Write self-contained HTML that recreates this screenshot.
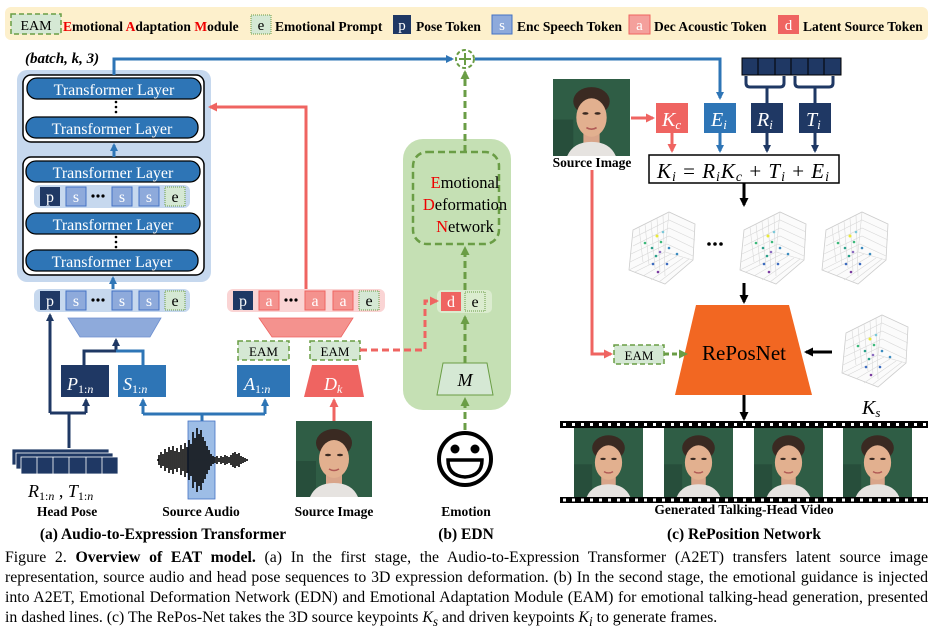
<!DOCTYPE html>
<html><head><meta charset="utf-8"><style>
html,body{margin:0;padding:0;background:#fff;}
svg{display:block;font-family:"Liberation Serif",serif;}
.cap{position:absolute;left:5px;top:548px;width:923px;font-family:"Liberation Serif",serif;font-size:15.8px;line-height:20px;text-align:justify;color:#000;}
</style></head><body>
<div style="position:relative;width:933px;height:633px;overflow:hidden">
<svg width="933" height="633" viewBox="0 0 933 633">
<defs>
<marker id="ab" markerWidth="8" markerHeight="8" refX="6" refY="4" orient="auto" markerUnits="userSpaceOnUse"><path d="M0,0 L8,4 L0,8 z" fill="#2e75b6"/></marker>
<marker id="an" markerWidth="8" markerHeight="8" refX="6" refY="4" orient="auto" markerUnits="userSpaceOnUse"><path d="M0,0 L8,4 L0,8 z" fill="#1f3864"/></marker>
<marker id="ar" markerWidth="9" markerHeight="9" refX="7" refY="4.5" orient="auto" markerUnits="userSpaceOnUse"><path d="M0,0 L9,4.5 L0,9 z" fill="#ef6461"/></marker>
<marker id="ag" markerWidth="9" markerHeight="9" refX="7" refY="4.5" orient="auto" markerUnits="userSpaceOnUse"><path d="M0,0 L9,4.5 L0,9 z" fill="#6a9d45"/></marker>
<marker id="ak" markerWidth="9" markerHeight="9" refX="7" refY="4.5" orient="auto" markerUnits="userSpaceOnUse"><path d="M0,0 L9,4.5 L0,9 z" fill="#000"/></marker>
<symbol id="plot" viewBox="0 0 72 76">
<path d="M8,20 L44,2 L70,14 L68,50 L40,74 L4,60 Z" fill="#fbfbfb" stroke="#ccc" stroke-width="0.8"/>
<path d="M14,17 L18,52 M20,14 L24,55 M26,11 L30,58 M32,8 L35,62 M38,5 L40,66 M8,28 L44,10 L70,22 M8,36 L44,18 L70,30 M6,44 L44,26 L69,38 M5,52 L42,34 L68,46 M4,60 L40,42 L68,50 M44,2 L40,42 M10,62 L46,44 M18,66 L52,46 M26,70 L58,48 M34,72 L64,49" stroke="#d8d8d8" stroke-width="0.6" fill="none"/>
<g><circle cx="32" cy="26" r="1.5" fill="#e8e83a"/><circle cx="38" cy="22" r="1.3" fill="#7cc8d8"/><circle cx="20" cy="33" r="1.3" fill="#3bb87a"/><circle cx="36" cy="32" r="1.3" fill="#3bb87a"/><circle cx="27" cy="38" r="1.3" fill="#2aa08a"/><circle cx="44" cy="38" r="1.3" fill="#3b8bbf"/><circle cx="31" cy="46" r="1.3" fill="#2aa08a"/><circle cx="52" cy="44" r="1.3" fill="#3b8bbf"/><circle cx="28" cy="54" r="1.3" fill="#3b6bbf"/><circle cx="42" cy="54" r="1.3" fill="#3b6bbf"/><circle cx="33" cy="62" r="1.3" fill="#7a3b9f"/><circle cx="35" cy="42" r="1.3" fill="#8a6bbf"/></g>
</symbol>
<symbol id="face" viewBox="0 0 76 76">
<rect width="76" height="76" fill="#2f5d45"/><rect x="0" y="40" width="20" height="36" fill="#274e3b"/>
<ellipse cx="38" cy="22" rx="18" ry="14" fill="#3a2a22"/>
<rect x="30" y="50" width="16" height="14" fill="#d9a58a"/>
<path d="M14,76 Q20,62 38,62 Q56,62 62,76 Z" fill="#e6e3e0"/>
<ellipse cx="38" cy="38" rx="15" ry="19" fill="#e2b08f"/>
<ellipse cx="32" cy="34" rx="3" ry="1.3" fill="#3a2a22"/><ellipse cx="44" cy="34" rx="3" ry="1.3" fill="#3a2a22"/>
<path d="M33,48 Q38,51 43,48" stroke="#b05a55" stroke-width="1.6" fill="none"/>
</symbol>
</defs>

<rect x="5" y="7" width="923" height="33" rx="6" fill="#fdf0cc"/>
<rect x="11" y="14" width="50" height="20" fill="#d5e8d4" stroke="#6a9d45" stroke-width="1.5" stroke-dasharray="5,3"/>
<text x="36" y="30" font-size="14" text-anchor="middle">EAM</text>
<text x="63" y="31" font-size="13.5" font-weight="bold"><tspan fill="#e00">E</tspan>motional <tspan fill="#e00">A</tspan>daptation <tspan fill="#e00">M</tspan>odule</text>
<rect x="251" y="15" width="20" height="19" fill="#d5e8d4" stroke="#6a9d45" stroke-dasharray="1,1"/>
<text x="261" y="30" font-size="15" text-anchor="middle">e</text>
<text x="275" y="31" font-size="13.5" font-weight="bold">Emotional Prompt</text>
<rect x="393" y="15" width="18" height="19" fill="#1f3864"/>
<text x="402" y="30" font-size="15" text-anchor="middle" fill="#fff">p</text>
<text x="416" y="31" font-size="13.5" font-weight="bold">Pose Token</text>
<rect x="492" y="15" width="20" height="19" fill="#8eaadb" stroke="#4472c4"/>
<text x="502" y="30" font-size="15" text-anchor="middle" fill="#fff">s</text>
<text x="517" y="31" font-size="13.5" font-weight="bold">Enc Speech Token</text>
<rect x="629" y="15" width="21" height="19" fill="#f4a09c" stroke="#ef6461"/>
<text x="639.5" y="30" font-size="15" text-anchor="middle" fill="#fff">a</text>
<text x="654" y="31" font-size="13.5" font-weight="bold">Dec Acoustic Token</text>
<rect x="778" y="15" width="21" height="19" fill="#ef6461"/>
<text x="788.5" y="30" font-size="15" text-anchor="middle" fill="#fff">d</text>
<text x="803" y="31" font-size="13.5" font-weight="bold">Latent Source Token</text>

<text x="25" y="63" font-size="15" font-weight="bold" font-style="italic">(batch, k, 3)</text>
<rect x="17" y="70" width="194" height="212" rx="10" fill="#c6d8ee"/>
<rect x="23" y="75" width="181" height="67" rx="8" fill="#fff" stroke="#000" stroke-width="1.5"/>
<rect x="23" y="157" width="181" height="118" rx="8" fill="#fff" stroke="#000" stroke-width="1.5"/>
<g fill="#2e75b6" stroke="#000" stroke-width="1.3">
<rect x="27" y="78" width="174" height="21" rx="10"/>
<rect x="26" y="117" width="172" height="21" rx="10"/>
<rect x="26" y="161" width="174" height="21" rx="10"/>
<rect x="26" y="213" width="174" height="21" rx="10"/>
<rect x="26" y="250" width="172" height="21" rx="10"/>
</g>
<g fill="#fff" font-size="16" text-anchor="middle">
<text x="114" y="95">Transformer Layer</text>
<text x="112" y="134">Transformer Layer</text>
<text x="113" y="178">Transformer Layer</text>
<text x="113" y="230">Transformer Layer</text>
<text x="112" y="267">Transformer Layer</text>
</g>
<g fill="#000"><circle cx="116" cy="102" r="1.3"/><circle cx="116" cy="107" r="1.3"/><circle cx="116" cy="112" r="1.3"/>
<circle cx="116" cy="237" r="1.3"/><circle cx="116" cy="242" r="1.3"/><circle cx="116" cy="247" r="1.3"/></g>
<line x1="114" y1="157" x2="114" y2="145" stroke="#2e75b6" stroke-width="3" marker-end="url(#ab)"/>

<g id="trow1">
<rect x="34" y="185" width="156" height="23" rx="6" fill="#c6d8ee"/>
<rect x="40" y="187" width="20" height="19" fill="#1f3864"/>
<rect x="66" y="187" width="20" height="19" fill="#8eaadb" stroke="#4472c4"/>
<rect x="112" y="187" width="20" height="19" fill="#8eaadb" stroke="#4472c4"/>
<rect x="139" y="187" width="20" height="19" fill="#8eaadb" stroke="#4472c4"/>
<rect x="165" y="187" width="20" height="19" fill="#d5e8d4" stroke="#6a9d45" stroke-dasharray="1,1"/>
<g font-size="16" text-anchor="middle"><text x="50" y="202" fill="#fff">p</text><text x="76" y="202" fill="#fff">s</text><text x="122" y="202" fill="#fff">s</text><text x="149" y="202" fill="#fff">s</text><text x="175" y="202">e</text></g>
<g fill="#000"><circle cx="93" cy="196" r="1.6"/><circle cx="98" cy="196" r="1.6"/><circle cx="103" cy="196" r="1.6"/></g>
</g>
<use href="#trow1" transform="translate(0,104)"/>
<line x1="113" y1="289" x2="113" y2="278" stroke="#2e75b6" stroke-width="3" marker-end="url(#ab)"/>

<rect x="227" y="289" width="158" height="23" rx="6" fill="#fad4d4"/>
<rect x="233" y="291" width="20" height="19" fill="#1f3864"/>
<rect x="259" y="291" width="20" height="19" fill="#f4928e" stroke="#ef6461"/>
<rect x="305" y="291" width="20" height="19" fill="#f4928e" stroke="#ef6461"/>
<rect x="333" y="291" width="20" height="19" fill="#f4928e" stroke="#ef6461"/>
<rect x="359" y="291" width="20" height="19" fill="#d5e8d4" stroke="#6a9d45" stroke-dasharray="1,1"/>
<g font-size="16" text-anchor="middle"><text x="243" y="306" fill="#fff">p</text><text x="269" y="306" fill="#fff">a</text><text x="315" y="306" fill="#fff">a</text><text x="343" y="306" fill="#fff">a</text><text x="369" y="306">e</text></g>
<g fill="#000"><circle cx="286" cy="300" r="1.6"/><circle cx="291" cy="300" r="1.6"/><circle cx="296" cy="300" r="1.6"/></g>
<polyline points="306,289 306,107 210,107" fill="none" stroke="#ef6461" stroke-width="3" marker-end="url(#ar)"/>

<polyline points="114,75 114,59 452,59" fill="none" stroke="#2e75b6" stroke-width="3" marker-end="url(#ab)"/>
<polyline points="475,59 720,59 720,98" fill="none" stroke="#2e75b6" stroke-width="3" marker-end="url(#ab)"/>

<path d="M68,318 L161,318 L150,337 L80,337 Z" fill="#8eaadb" stroke="#6d8fcf" stroke-width="0.8"/>
<path d="M259,318 L353,318 L341,337 L272,337 Z" fill="#f4928e" stroke="#ef6461" stroke-width="0.8"/>
<rect x="238" y="341" width="51" height="19" fill="#d5e8d4" stroke="#6a9d45" stroke-width="1.5" stroke-dasharray="5,3"/>
<text x="263.5" y="356" font-size="13" text-anchor="middle">EAM</text>
<rect x="310" y="341" width="50" height="19" fill="#d5e8d4" stroke="#6a9d45" stroke-width="1.5" stroke-dasharray="5,3"/>
<text x="335" y="356" font-size="13" text-anchor="middle">EAM</text>

<rect x="61" y="365" width="48" height="32" fill="#1f3864"/>
<rect x="118" y="365" width="48" height="32" fill="#2e75b6"/>
<rect x="237" y="365" width="53" height="32" fill="#2e75b6"/>
<path d="M312,365 L358,365 L364,397 L304,397 Z" fill="#ef6461"/>
<g fill="#fff" font-style="italic" font-size="18">
<text x="67" y="390">P<tspan font-size="12" font-style="normal" dy="3">1:</tspan><tspan font-size="12" dy="0">n</tspan></text>
<text x="123" y="390">S<tspan font-size="12" font-style="normal" dy="3">1:</tspan><tspan font-size="12">n</tspan></text>
<text x="244" y="390">A<tspan font-size="12" font-style="normal" dy="3">1:</tspan><tspan font-size="12">n</tspan></text>
<text x="324" y="390">D<tspan font-size="12" dy="3">k</tspan></text>
</g>

<g fill="none" stroke="#1f3864" stroke-width="3">
<polyline points="69,448 69,413"/>
<polyline points="50,413 86,413"/>
<line x1="50" y1="413" x2="50" y2="315" marker-end="url(#an)"/>
<line x1="86" y1="413" x2="86" y2="400" marker-end="url(#an)"/>
<polyline points="84,365 84,351 116,351"/>
<line x1="116" y1="351" x2="116" y2="340" marker-end="url(#an)"/>
</g>
<polyline points="116,351 143,351 143,365" fill="none" stroke="#2e75b6" stroke-width="3"/>
<g fill="none" stroke="#2e75b6" stroke-width="3">
<polyline points="202,421 202,414"/>
<polyline points="143,414 265,414"/>
<line x1="143" y1="414" x2="143" y2="400" marker-end="url(#ab)"/>
<line x1="265" y1="414" x2="265" y2="400" marker-end="url(#ab)"/>
</g>
<line x1="334" y1="421" x2="334" y2="400" stroke="#ef6461" stroke-width="3" marker-end="url(#ar)"/>

<g stroke="#fff" stroke-width="0.8" fill="#1f3864">
<rect x="12" y="449" width="97" height="16"/><rect x="16" y="453" width="97" height="16"/><rect x="21" y="457" width="97" height="17"/>
<path d="M37,457 v17 M53,457 v17 M69,457 v17 M86,457 v17 M102,457 v17" fill="none"/>
</g>
<text x="28" y="497" font-size="18" font-style="italic">R<tspan font-size="12" font-style="normal" dy="3">1:</tspan><tspan font-size="12">n</tspan><tspan dy="-3" font-style="normal"> , </tspan>T<tspan font-size="12" font-style="normal" dy="3">1:</tspan><tspan font-size="12">n</tspan></text>

<rect x="188" y="421" width="27" height="78" fill="#9dbde6" stroke="#4472c4" stroke-width="0.8"/>
<path d="M157,460h2 M159,455v10 M161,452v16 M163,454v12 M165,449v22 M167,452v16 M169,447v26 M171,450v20 M173,446v28 M175,451v18 M177,448v24 M179,452v16 M181,445v30 M183,449v22 M185,443v34 M187,447v26 M189,440v40 M191,444v32 M193,432v56 M195,438v44 M197,428v64 M199,434v52 M201,430v60 M203,437v46 M205,441v38 M207,446v28 M209,450v20 M211,454v12 M213,456v8 M215,457v6 M217,456v8 M219,458v4 M221,456v8 M223,457v6 M225,455v10 M227,456v8 M229,457v6 M231,455v10 M233,453v14 M235,452v16 M237,454v12 M239,453v14 M241,456v8 M243,457v6 M245,458v4 M247,459v2" stroke="#000" stroke-width="1.6" fill="none"/>
<use href="#face" x="296" y="421" width="76" height="76"/>

<g font-size="13.5" font-weight="bold" text-anchor="middle">
<text x="67" y="516">Head Pose</text>
<text x="201" y="516">Source Audio</text>
<text x="334" y="516">Source Image</text>
<text x="466" y="516">Emotion</text>
<text x="592" y="167">Source Image</text>
<text x="744" y="514">Generated Talking-Head Video</text>
</g>
<g font-size="15.5" font-weight="bold" text-anchor="middle">
<text x="163" y="539">(a) Audio-to-Expression Transformer</text>
<text x="466" y="539">(b) EDN</text>
<text x="744" y="539">(c) RePosition Network</text>
</g>

<!-- (b) EDN -->
<rect x="403" y="139" width="108" height="271" rx="20" fill="#c5e0b4"/>
<rect x="413" y="152" width="86" height="92" rx="14" fill="none" stroke="#6a9d45" stroke-width="2.5" stroke-dasharray="7,4"/>
<g font-size="16.5" text-anchor="middle">
<text x="465" y="188"><tspan fill="#e00">E</tspan>motional</text>
<text x="465" y="210"><tspan fill="#e00">D</tspan>eformation</text>
<text x="465" y="232"><tspan fill="#e00">N</tspan>etwork</text>
</g>
<rect x="437" y="290" width="55" height="23" rx="5" fill="#dbeccf"/>
<rect x="441" y="292" width="20" height="19" fill="#ef6461"/>
<rect x="465" y="292" width="20" height="19" fill="#dbeccf" stroke="#6a9d45" stroke-dasharray="1,1"/>
<text x="451" y="307" font-size="16" fill="#fff" text-anchor="middle">d</text>
<text x="475" y="307" font-size="16" text-anchor="middle">e</text>
<path d="M443,363 L487,363 L493,395 L437,395 Z" fill="#d5e8d4" stroke="#6a9d45"/>
<text x="465" y="386" font-size="18" font-style="italic" text-anchor="middle">M</text>
<g stroke="#6a9d45" stroke-width="3" stroke-dasharray="7,4" fill="none">
<line x1="465" y1="430" x2="465" y2="399" marker-end="url(#ag)"/>
<line x1="465" y1="363" x2="465" y2="317" marker-end="url(#ag)"/>
<line x1="465" y1="290" x2="465" y2="248" marker-end="url(#ag)"/>
<line x1="465" y1="152" x2="465" y2="72" marker-end="url(#ag)"/>
</g>
<polyline points="360,350 425,350 425,301 437,301" fill="none" stroke="#ef6461" stroke-width="3" stroke-dasharray="7,4" marker-end="url(#ar)"/>
<circle cx="465" cy="59" r="9" fill="#fff" stroke="#6a9d45" stroke-width="2" stroke-dasharray="4,2.5"/>
<path d="M465,53v12 M459,59h12" stroke="#6a9d45" stroke-width="2"/>
<circle cx="465" cy="459" r="26" fill="#fff" stroke="#000" stroke-width="4"/>
<circle cx="455" cy="449" r="4.5"/><circle cx="475" cy="449" r="4.5"/>
<path d="M448,460 L482,460 Q482,476 465,477 Q448,476 448,460 Z" fill="#fff" stroke="#000" stroke-width="3.5"/>

<!-- (c) -->
<use href="#face" x="553" y="79" width="77" height="77"/>
<line x1="631" y1="118" x2="653" y2="118" stroke="#ef6461" stroke-width="3" marker-end="url(#ar)"/>
<rect x="656" y="103" width="32" height="30" fill="#ef6461"/>
<rect x="704" y="103" width="32" height="30" fill="#2e75b6"/>
<rect x="751" y="103" width="32" height="30" fill="#1f3864"/>
<rect x="799" y="103" width="32" height="30" fill="#1f3864"/>
<g fill="#fff" font-style="italic" font-size="20">
<text x="662" y="126">K<tspan font-size="13" dy="3">c</tspan></text>
<text x="711" y="126">E<tspan font-size="13" dy="3">i</tspan></text>
<text x="757" y="126">R<tspan font-size="13" dy="3">i</tspan></text>
<text x="806" y="126">T<tspan font-size="13" dy="3">i</tspan></text>
</g>
<rect x="742" y="58" width="99" height="17" fill="#1f3864" stroke="#000" stroke-width="1"/>
<path d="M758,58v17 M775,58v17 M791,58v17 M808,58v17 M824,58v17" stroke="#000" stroke-width="1"/>
<path d="M746,76 v7 q0,4 4,4 h30 q4,0 4,-4 v-7 M767,87 v16 M795,76 v7 q0,4 4,4 h30 q4,0 4,-4 v-7 M815,87 v16" fill="none" stroke="#1f3864" stroke-width="3"/>
<g stroke-width="3" fill="none">
<line x1="672" y1="133" x2="672" y2="151" stroke="#ef6461" marker-end="url(#ar)"/>
<line x1="720" y1="133" x2="720" y2="151" stroke="#2e75b6" marker-end="url(#ab)"/>
<line x1="767" y1="133" x2="767" y2="151" stroke="#1f3864" marker-end="url(#an)"/>
<line x1="815" y1="133" x2="815" y2="151" stroke="#1f3864" marker-end="url(#an)"/>
</g>
<rect x="649" y="155" width="190" height="28" fill="#fff" stroke="#000" stroke-width="1.5"/>
<text x="657" y="178" font-size="21" font-style="italic" textLength="172" lengthAdjust="spacing">K<tspan font-size="14" dy="3">i</tspan><tspan dy="-3" font-style="normal">  =  </tspan>R<tspan font-size="14" dy="3">i</tspan><tspan dy="-3">K</tspan><tspan font-size="14" dy="3">c</tspan><tspan dy="-3" font-style="normal">  +  </tspan>T<tspan font-size="14" dy="3">i</tspan><tspan dy="-3" font-style="normal">  +  </tspan>E<tspan font-size="14" dy="3">i</tspan></text>
<line x1="744" y1="183" x2="744" y2="205" stroke="#000" stroke-width="3" marker-end="url(#ak)"/>
<use href="#plot" x="625" y="210" width="72" height="76"/>
<use href="#plot" x="736" y="210" width="72" height="76"/>
<use href="#plot" x="818" y="210" width="72" height="76"/>
<use href="#plot" x="838" y="313" width="72" height="76"/>
<g><circle cx="709" cy="244" r="1.8"/><circle cx="715" cy="244" r="1.8"/><circle cx="721" cy="244" r="1.8"/></g>
<line x1="744" y1="283" x2="744" y2="302" stroke="#000" stroke-width="3" marker-end="url(#ak)"/>
<path d="M696,305 L789,305 L812,395 L675,395 Z" fill="#f26722"/>
<text x="744" y="360" font-size="21" text-anchor="middle">RePosNet</text>
<line x1="832" y1="352" x2="806" y2="352" stroke="#000" stroke-width="3" marker-end="url(#ak)"/>
<text x="862" y="414" font-size="20" font-style="italic">K<tspan font-size="13" dy="3">s</tspan></text>
<polyline points="592,170 592,354 611,354" fill="none" stroke="#ef6461" stroke-width="3" marker-end="url(#ar)"/>
<rect x="614" y="345" width="50" height="19" fill="#d5e8d4" stroke="#6a9d45" stroke-width="1.5" stroke-dasharray="5,3"/>
<text x="639" y="360" font-size="13" text-anchor="middle">EAM</text>
<line x1="664" y1="354" x2="686" y2="354" stroke="#6a9d45" stroke-width="3" stroke-dasharray="5,3" marker-end="url(#ag)"/>
<line x1="744" y1="395" x2="744" y2="419" stroke="#000" stroke-width="3" marker-end="url(#ak)"/>
<rect x="560" y="421" width="368" height="7" fill="#000"/>
<rect x="560" y="497" width="368" height="6" fill="#000"/>
<line x1="563" y1="424.5" x2="928" y2="424.5" stroke="#fff" stroke-width="3" stroke-dasharray="3,6"/>
<line x1="563" y1="500" x2="928" y2="500" stroke="#fff" stroke-width="3" stroke-dasharray="3,6"/>
<use href="#face" x="570" y="428" width="77" height="69"/>
<use href="#face" x="660" y="428" width="77" height="69"/>
<use href="#face" x="750" y="428" width="77" height="69"/>
<use href="#face" x="839" y="428" width="77" height="69"/>
</svg>
<div class="cap">Figure 2. <b>Overview of EAT model.</b> (a) In the first stage, the Audio-to-Expression Transformer (A2ET) transfers latent source image representation, source audio and head pose sequences to 3D expression deformation. (b) In the second stage, the emotional guidance is injected into A2ET, Emotional Deformation Network (EDN) and Emotional Adaptation Module (EAM) for emotional talking-head generation, presented in dashed lines. (c) The RePos-Net takes the 3D source keypoints <i>K<sub>s</sub></i> and driven keypoints <i>K<sub>i</sub></i> to generate frames.</div>
</div>
</body></html>
